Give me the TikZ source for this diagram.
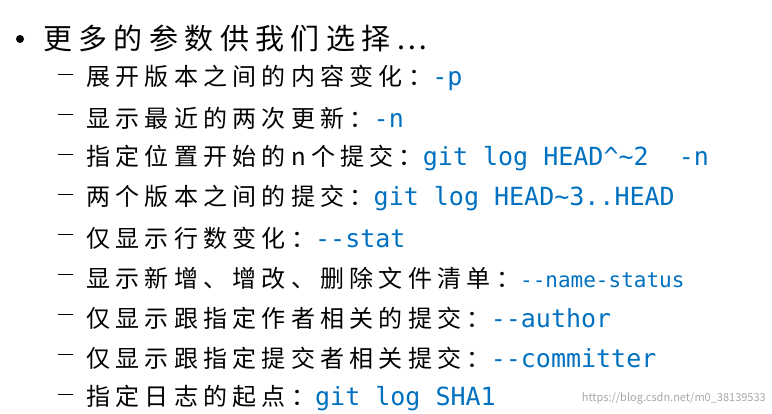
\documentclass[tikz,border=0pt]{standalone}
\usepackage{fontspec}
\setmainfont{Noto Sans CJK SC}
\newfontfamily\cjksp[LetterSpace=22]{Noto Sans CJK SC}
\newfontfamily\code{DejaVu Sans Mono}
\definecolor{codeblue}{RGB}{0,112,192}
\begin{document}
\begin{tikzpicture}[x=1pt,y=-1pt,
  item/.style={anchor=west,inner sep=0pt,font=\fontsize{24}{28}\cjksp}]
\useasboundingbox (0,0) rectangle (772,413);
\fill[black] (20,39) circle (4);
\node[anchor=west,inner sep=0pt,font=\fontsize{29}{34}\cjksp] (h) at (43,38) {更多的参数供我们选择…};
\foreach \y/\t [count=\i] in {
 78/{展开版本之间的内容变化：\textcolor{codeblue}{\fontsize{25}{28}\code -p}},
 118/{显示最近的两次更新：\textcolor{codeblue}{\fontsize{25}{28}\code -n}},
 158/{指定位置开始的n个提交：\textcolor{codeblue}{\fontsize{25}{28}\code git log HEAD\textasciicircum\textasciitilde2 \ -n}},
 198/{两个版本之间的提交：\textcolor{codeblue}{\fontsize{25}{28}\code git log HEAD\textasciitilde3..HEAD}},
 238/{仅显示行数变化：\textcolor{codeblue}{\fontsize{25}{28}\code -{}-stat}},
 278/{显示新增、增改、删除文件清单：\textcolor{codeblue}{\fontsize{21}{24}\code -{}-name-status}},
 318/{仅显示跟指定作者相关的提交：\textcolor{codeblue}{\fontsize{25}{28}\code -{}-author}},
 358/{仅显示跟指定提交者相关提交：\textcolor{codeblue}{\fontsize{25}{28}\code -{}-committer}},
 398/{指定日志的起点：\textcolor{codeblue}{\fontsize{25}{28}\code git log SHA1}}}{
  \node[item] (d\i) at (58,\y) {\rule[0.3em]{15pt}{1.8pt}};
  \node[item] (t\i) at (86,\y) {\t};
}
\node[anchor=east,inner sep=0pt,text=gray!70,font=\fontsize{11}{13}\selectfont] (w) at (766,398) {https://blog.csdn.net/m0\_38139533};
\end{tikzpicture}
\end{document}
